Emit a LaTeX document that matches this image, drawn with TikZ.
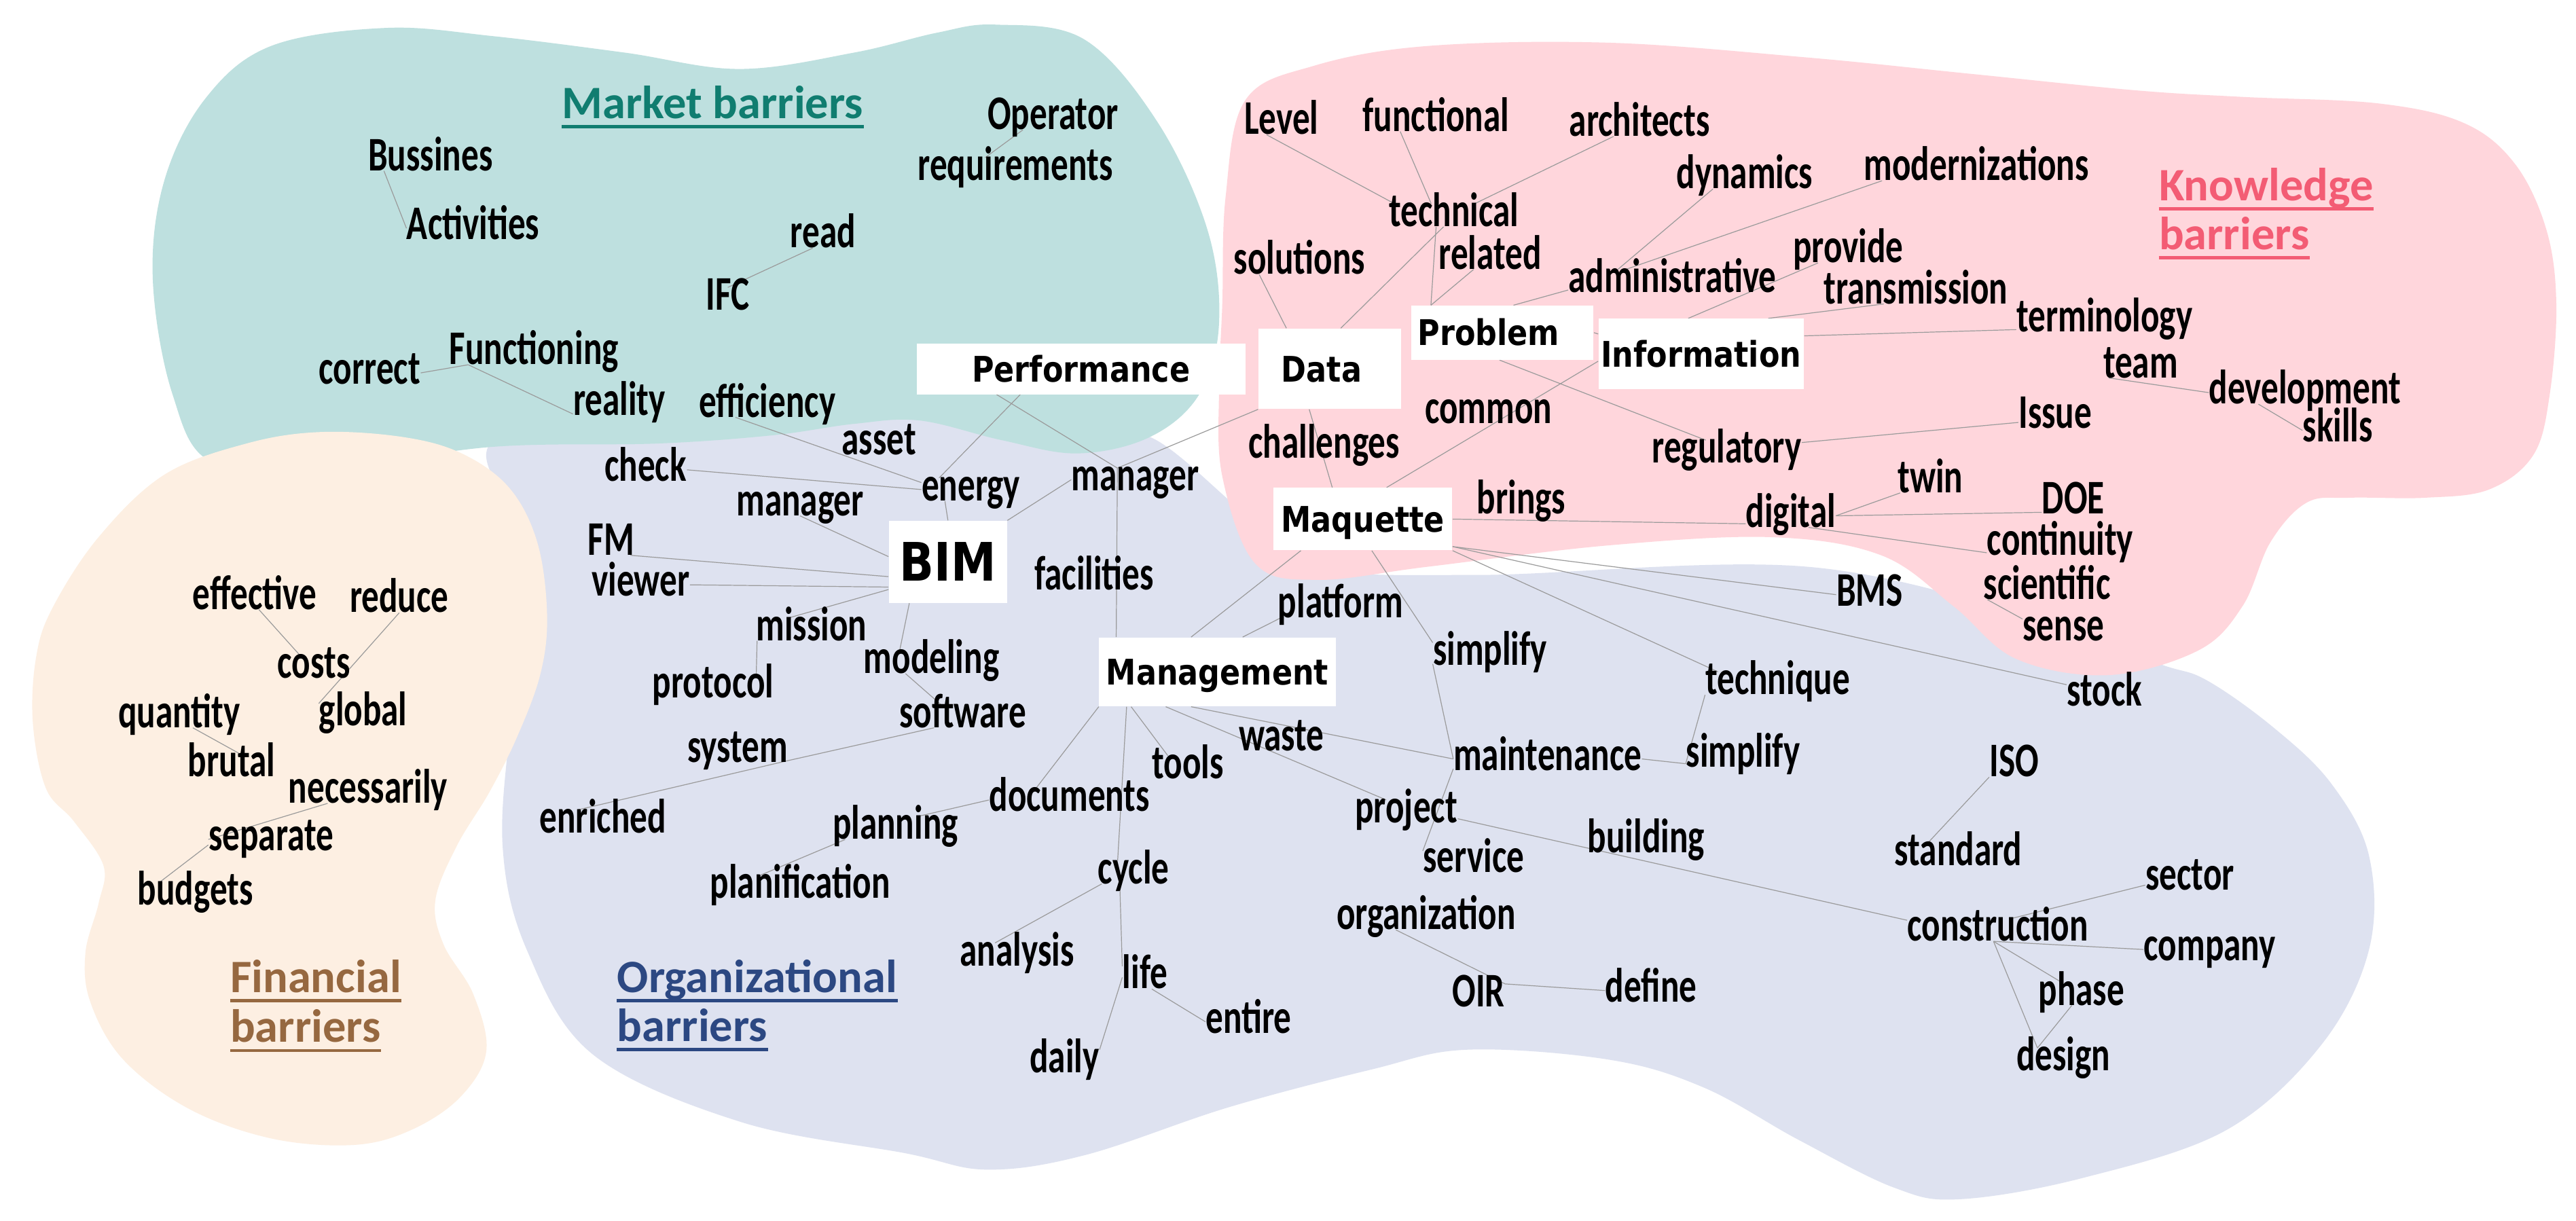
\documentclass[tikz,border=0pt]{standalone}
\usepackage{fontspec}
\newfontfamily\wordfam[FakeStretch=0.72]{Carlito}
\newfontfamily\boxfam[FakeStretch=0.855]{DejaVu Sans}
\newfontfamily\titlefam{Carlito}
\definecolor{tealfill}{RGB}{190,224,223}
\definecolor{pinkfill}{RGB}{255,214,220}
\definecolor{peachfill}{RGB}{253,239,226}
\definecolor{lavfill}{RGB}{222,226,240}
\definecolor{mkt}{RGB}{16,125,112}
\definecolor{knw}{RGB}{243,92,116}
\definecolor{fin}{RGB}{150,104,64}
\definecolor{orgc}{RGB}{44,72,130}
\definecolor{linegray}{RGB}{155,155,155}
\pgfdeclarelayer{blobs}
\pgfdeclarelayer{lines}
\pgfsetlayers{blobs,lines,main}
\begin{document}
\begin{tikzpicture}[x=1pt,y=-1pt,
  w/.style={font=\wordfam\bfseries\fontsize{29.4}{30}\selectfont, inner sep=0pt, text height=13.7pt, text depth=0pt},
  wbox/.style={fill=white, font=\boxfam\bfseries\fontsize{21.5}{22}\selectfont, inner sep=0pt, text height=15.7pt, text depth=0pt},
  ttl/.style={font=\titlefam\bfseries\fontsize{28.3}{30}\selectfont, inner sep=0pt, anchor=base west},
  uline/.style={line width=2pt},
  link/.style={draw=linegray, line width=0.5pt}]

\useasboundingbox (0,0) rectangle (1568,743);

% ---------------- blobs ----------------
\begin{pgfonlayer}{blobs}
\fill[white] (0,0) rectangle (1568,743);
\fill[lavfill] plot[smooth cycle, tension=0.6] coordinates {
 (296,276) (330,264) (400,262) (480,258) (540,252) (600,262) (660,270) (700,266)
 (757,312) (800,345) (900,350) (1100,345) (1250,380) (1314,404) (1343,414)
 (1384,443) (1419,477) (1442,521) (1442,578) (1413,636) (1355,688) (1268,717)
 (1193,730) (1153,723) (1095,694) (1037,662) (979,645) (893,639) (835,651)
 (748,674) (661,703) (601,712) (551,702) (451,683) (361,642) (321,579)
 (306,516) (311,437) (321,343)};
\fill[tealfill] plot[smooth cycle, tension=0.6] coordinates {
 (130,282) (105,240) (93,170) (100,110) (125,60) (165,28) (235,17) (300,22)
 (380,32) (450,42) (520,32) (570,20) (606,15) (660,24) (705,75) (735,140)
 (742,197) (730,240) (700,266) (656,276) (610,268) (560,256) (520,258)
 (470,265) (400,270) (300,272) (200,285)};
\fill[pinkfill] plot[smooth cycle, tension=0.6] coordinates {
 (758,61) (800,40) (869,28) (979,26) (1100,35) (1200,45) (1300,55) (1365,59)
 (1448,63) (1500,75) (1531,100) (1550,140) (1556,185) (1552,240) (1542,277)
 (1515,298) (1476,303) (1430,303) (1404,306) (1382,330) (1365,369) (1338,396)
 (1283,411) (1227,401) (1189,369) (1145,338) (1078,327) (979,332) (869,345)
 (802,353) (764,343) (744,290) (742,237) (744,185) (746,120)};
\fill[peachfill] plot[smooth cycle, tension=0.6] coordinates {
 (150,270) (195,263) (245,266) (281,276) (310,297) (327,330) (333,374)
 (329,410) (315,448) (298,482) (278,515) (265,548) (270,575) (288,605)
 (296,640) (280,668) (250,688) (215,697) (165,693) (115,675) (75,645)
 (55,610) (52,580) (60,550) (63,527) (45,500) (28,480) (20,440) (22,400)
 (32,370) (60,327) (100,289)};
\end{pgfonlayer}

% ---------------- titles ----------------
\node[ttl, text=mkt] (tMarket) at (342,72) {Market barriers};
\node[ttl, text=knw] (tKnowA) at (1314,122) {Knowledge\ };
\node[ttl, text=knw] (tKnowB) at (1314,152) {barriers};
\node[ttl, text=fin] (tFinA) at (140,604) {Financial};
\node[ttl, text=fin] (tFinB) at (140,634.5) {barriers};
\node[ttl, text=orgc] (tOrgA) at (375.5,604) {Organizational};
\node[ttl, text=orgc] (tOrgB) at (375.5,634) {barriers};
\foreach \t/\c in {tMarket/mkt,tKnowA/knw,tKnowB/knw,tFinA/fin,tFinB/fin,tOrgA/orgc,tOrgB/orgc}
  \draw[uline, \c] ([yshift=-5pt]\t.base west) -- ([yshift=-5pt]\t.base east);

% ---------------- boxes ----------------
\node[wbox, minimum width=200pt, minimum height=31pt] (Performance) at (658,224.5) {Performance};
\node[wbox, minimum height=49pt, text width=59pt, align=left, inner xsep=14pt] (Data) at (809.5,224.5) {Data};
\node[wbox, minimum height=33pt, text width=103pt, align=left, inner xsep=4pt] (Problem) at (914.5,202.5) {Problem};
\node[wbox, minimum width=125pt, minimum height=43pt] (Information) at (1035.5,215.5) {Information};
\node[wbox, minimum width=109pt, minimum height=38pt] (Maquette) at (829.5,316) {Maquette};
\node[wbox, minimum width=144pt, minimum height=42pt] (Management) at (741,409) {Management};
\node[wbox, minimum width=72pt, minimum height=50pt, font=\boxfam\bfseries\fontsize{32.3}{34}\selectfont, text height=23.5pt] (BIM) at (577,342) {BIM};

% ---------------- words: market ----------------
\node[w] (Operator) at (641,72) {Operator};
\node[w] (requirements) at (618,103) {requirements};
\node[w] (Bussines) at (262,97) {Bussines};
\node[w] (Activities) at (288,139) {Activities};
\node[w] (read) at (501,144) {read};
\node[w] (IFC) at (443,182) {IFC};
\node[w] (Functioning) at (325,215) {Functioning};
\node[w] (correct) at (225,227) {correct};
\node[w] (reality) at (377,246) {reality};
\node[w] (efficiency) at (467,247) {efficiency};
\node[w] (asset) at (535,270) {asset};

% ---------------- words: knowledge ----------------
\node[w] (Level) at (780,75) {Level};
\node[w] (functional) at (874,73) {functional};
\node[w] (architects) at (998,76) {architects};
\node[w] (dynamics) at (1062,108) {dynamics};
\node[w] (modernizations) at (1203,103) {modernizations};
\node[w] (technical) at (885,131) {technical};
\node[w] (solutions) at (791,160) {solutions};
\node[w] (related) at (907,157) {related};
\node[w] (administrative) at (1018,171) {administrative};
\node[w] (provide) at (1125,153) {provide};
\node[w] (transmission) at (1166,178) {transmission};
\node[w] (terminology) at (1281,195) {terminology};
\node[w] (team) at (1303,223) {team};
\node[w] (development) at (1403,239) {development};
\node[w] (skills) at (1423,262) {skills};
\node[w] (Issue) at (1251,254) {Issue};
\node[w] (regulatory) at (1051,275) {regulatory};
\node[w] (common) at (906,251) {common};
\node[w] (challenges) at (806,272) {challenges};
\node[w] (twin) at (1175,293) {twin};
\node[w] (DOE) at (1262,306) {DOE};
\node[w] (digital) at (1090,314) {digital};
\node[w] (continuity) at (1254,331) {continuity};
\node[w] (brings) at (926,306) {brings};
\node[w] (scientific) at (1246,358) {scientific};
\node[w] (sense) at (1256,383) {sense};
\node[w] (BMS) at (1138,362) {BMS};
\node[w] (stock) at (1281,423) {stock};

% ---------------- words: organizational ----------------
\node[w] (check) at (393,286) {check};
\node[w] (managerA) at (487,307) {manager};
\node[w] (energy) at (591,298) {energy};
\node[w] (managerB) at (691,292) {manager};
\node[w] (FM) at (372,331) {FM};
\node[w] (viewer) at (390,356) {viewer};
\node[w] (facilities) at (666,352) {facilities};
\node[w] (mission) at (494,383) {mission};
\node[w] (platform) at (816,369) {platform};
\node[w] (protocol) at (434,418) {protocol};
\node[w] (modeling) at (567,403) {modeling};
\node[w] (simplifyA) at (907,398) {simplify};
\node[w] (technique) at (1082,416) {technique};
\node[w] (software) at (586,436) {software};
\node[w] (tools) at (723,467) {tools};
\node[w] (waste) at (780,450) {waste};
\node[w] (system) at (449,457) {system};
\node[w] (maintenance) at (942,462) {maintenance};
\node[w] (simplifyB) at (1061,460) {simplify};
\node[w] (ISO) at (1226,466) {ISO};
\node[w] (enriched) at (367,500) {enriched};
\node[w] (documents) at (651,487) {documents};
\node[w] (project) at (856,494) {project};
\node[w] (planning) at (545,504) {planning};
\node[w] (building) at (1002,512) {building};
\node[w] (standard) at (1192,520) {standard};
\node[w] (service) at (897,524) {service};
\node[w] (planification) at (487,540) {planification};
\node[w] (cycle) at (690,531) {cycle};
\node[w] (sector) at (1333,535) {sector};
\node[w] (organization) at (868,559) {organization};
\node[w] (construction) at (1216,566) {construction};
\node[w] (company) at (1345,578) {company};
\node[w] (analysis) at (619,581) {analysis};
\node[w] (life) at (697,595) {life};
\node[w] (OIR) at (900,606) {OIR};
\node[w] (define) at (1005,603) {define};
\node[w] (phase) at (1267,605) {phase};
\node[w] (entire) at (760,622) {entire};
\node[w] (daily) at (648,646) {daily};
\node[w] (design) at (1256,645) {design};

% ---------------- words: financial ----------------
\node[w] (effective) at (155,364) {effective};
\node[w] (reduce) at (243,366) {reduce};
\node[w] (costs) at (191,406) {costs};
\node[w] (quantity) at (109,436) {quantity};
\node[w] (global) at (221,435) {global};
\node[w] (brutal) at (141,466) {brutal};
\node[w] (necessarily) at (224,482) {necessarily};
\node[w] (separate) at (165,511) {separate};
\node[w] (budgets) at (119,544) {budgets};

% ---------------- links ----------------
\begin{pgfonlayer}{lines}
% market
\draw[link] (Bussines.194) -- (Activities.west);
\draw[link] (Operator.201) -- (requirements.159);
\draw[link] (read.228) -- (IFC.north);
\draw[link] (correct.east) -- (Functioning.190);
\draw[link] (Functioning.190) -- (reality.192);
\draw[link] (efficiency.200) -- (energy.172);
\draw[link] (check.east) -- (energy.west);
\draw[link] (Performance.203) -- (energy.160);
\draw[link] (energy.204) -- (BIM.north);
\draw[link] (Performance.197) -- (managerB.147);
\draw[link] (Data.south west) -- (managerB.147);
\draw[link] (managerB.west) -- (BIM.north east);
\draw[link] (managerB.147) -- (Management.161);
% BIM and organizational
\draw[link] (BIM.175) -- (managerA.south);
\draw[link] (BIM.194) -- (FM.329);
\draw[link] (BIM.203) -- (viewer.east);
\draw[link] (BIM.205) -- (mission.152);
\draw[link] (mission.192) -- (protocol.15);
\draw[link] (BIM.227) -- (modeling.160);
\draw[link] (modeling.204) -- (software.152);
\draw[link] (software.202) -- (system.349);
\draw[link] (system.349) -- (enriched.155);
\draw[link] (Management.south west) -- (documents.161);
\draw[link] (documents.west) -- (planning.27);
\draw[link] (planning.193) -- (planification.164);
\draw[link] (Management.202) -- (tools.150);
\draw[link] (Management.201) -- (cycle.144);
\draw[link] (cycle.220) -- (life.154);
\draw[link] (cycle.200) -- (analysis.152);
\draw[link] (life.west) -- (daily.north east);
\draw[link] (life.-60) -- (entire.west);
\draw[link] (Management.233) -- (maintenance.west);
\draw[link] (Management.214) -- (project.150);
\draw[link] (Maquette.207) -- (Management.127);
\draw[link] (platform.191) -- (Management.54);
\draw[link] (Maquette.286) -- (simplifyA.169);
\draw[link] (simplifyA.190) -- (maintenance.west);
\draw[link] (maintenance.186) -- (service.169);
\draw[link] (Maquette.south east) -- (technique.169);
\draw[link] (technique.189) -- (simplifyB.188);
\draw[link] (maintenance.east) -- (simplifyB.188);
\draw[link] (Maquette.343) -- (BMS.west);
\draw[link] (Maquette.343) -- (stock.165);
\draw[link] (Maquette.east) -- (digital.190);
\draw[link] (digital.east) -- (twin.201);
\draw[link] (digital.east) -- (DOE.197);
\draw[link] (digital.327) -- (continuity.187);
\draw[link] (scientific.191) -- (sense.166);
\draw[link] (project.352) -- (construction.174);
\draw[link] (ISO.south west) -- (standard.159);
\draw[link] (construction.38) -- (sector.188);
\draw[link] (construction.250) -- (company.west);
\draw[link] (construction.250) -- (phase.150);
\draw[link] (construction.250) -- (design.156);
\draw[link] (phase.230) -- (design.156);
\draw[link] (organization.201) -- (OIR.north east);
\draw[link] (OIR.north east) -- (define.west);
% knowledge
\draw[link] (team.200) -- (development.west);
\draw[link] (development.194) -- (skills.west);
\draw[link] (Level.218) -- (technical.169);
\draw[link] (functional.198) -- (technical.153);
\draw[link] (architects.204) -- (technical.29);
\draw[link] (technical.228) -- (Data.75);
\draw[link] (technical.213) -- (Problem.159);
\draw[link] (related.215) -- (Problem.159);
\draw[link] (solutions.196) -- (Data.137);
\draw[link] (dynamics.200) -- (administrative.168);
\draw[link] (modernizations.187) -- (administrative.166);
\draw[link] (administrative.185) -- (Problem.68);
\draw[link] (provide.201) -- (Information.110);
\draw[link] (transmission.200) -- (Information.28);
\draw[link] (Information.10) -- (terminology.186);
\draw[link] (Problem.east) -- (Information.169);
\draw[link] (Problem.264) -- (regulatory.151);
\draw[link] (regulatory.7) -- (Issue.188);
\draw[link] (Information.184) -- (Maquette.53);
\draw[link] (Data.243) -- (Maquette.134);
% financial
\draw[link] (effective.-70) -- (costs.140);
\draw[link] (reduce.south) -- (global.166);
\draw[link] (quantity.-40) -- (brutal.54);
\draw[link] (necessarily.196) -- (separate.west);
\draw[link] (separate.185) -- (budgets.162);
\end{pgfonlayer}
\end{tikzpicture}
\end{document}
